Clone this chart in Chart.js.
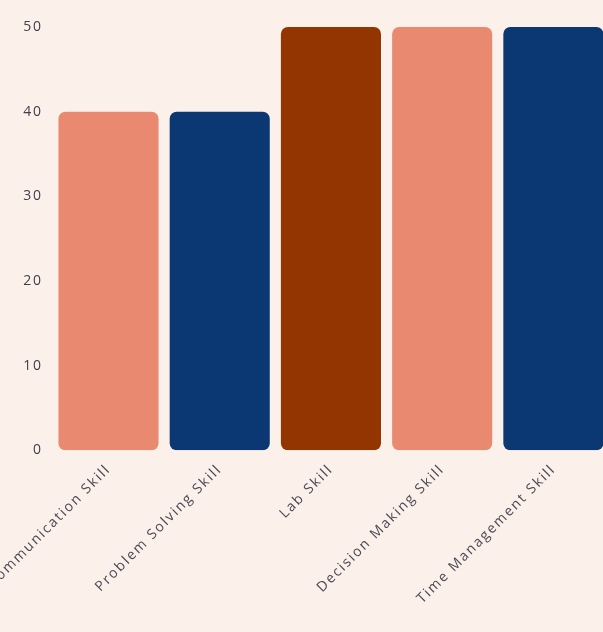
<!DOCTYPE html>
<html>
<head>
<meta charset="utf-8">
<script src="https://cdn.jsdelivr.net/npm/chart.js@4"></script>
<style>
  html, body { margin: 0; padding: 0; background: #fcf0eb; overflow: hidden; }
  #wrap { position: absolute; left: -16px; top: 0; width: 627px; height: 632px; }
</style>
</head>
<body>
<div id="wrap"><canvas id="skillsChart" width="627" height="632"></canvas></div>
<script>
const skills = ['Communication Skill', 'Problem Solving Skill', 'Lab Skill', 'Decision Making Skill', 'Time Management Skill'];
const scores = [40, 40, 50, 50, 50];
const barColors = ['#e98a70', '#0b3872', '#923500', '#e98a70', '#0b3872'];
const yTicks = [0, 10, 20, 30, 40, 50];

// wide, airy lettering for the axis labels
const spacing = {
    id: 'spacing',
    beforeLayout: chart => { chart.ctx.letterSpacing = '1.8px'; },
    beforeDraw: chart => { chart.ctx.letterSpacing = '1.8px'; }
};

const ctx = document.getElementById('skillsChart').getContext('2d');
new Chart(ctx, {
    type: 'bar',
    data: {
        labels: skills,
        datasets: [{
            data: scores,
            backgroundColor: barColors,
            borderRadius: 7,
            borderSkipped: false,
            barPercentage: 0.9,
            categoryPercentage: 1
        }]
    },
    options: {
        responsive: false,
        animation: false,
        layout: { padding: { top: 27, right: 2, left: 0, bottom: 22 } },
        plugins: { legend: { display: false }, tooltip: { enabled: false } },
        scales: {
            x: {
                grid: { display: false },
                border: { display: false },
                ticks: {
                    color: '#4a4a55',
                    font: { family: 'Open Sans', size: 14 },
                    minRotation: 45,
                    maxRotation: 45
                }
            },
            y: {
                min: 0,
                max: 50,
                grid: { display: false },
                border: { display: false },
                afterBuildTicks: axis => { axis.ticks = yTicks.map(v => ({ value: v })); },
                ticks: {
                    color: '#3f3f4a',
                    font: { family: 'Open Sans', size: 14 },
                    padding: 2
                }
            }
        }
    },
    plugins: [spacing]
});
</script>
</body>
</html>
